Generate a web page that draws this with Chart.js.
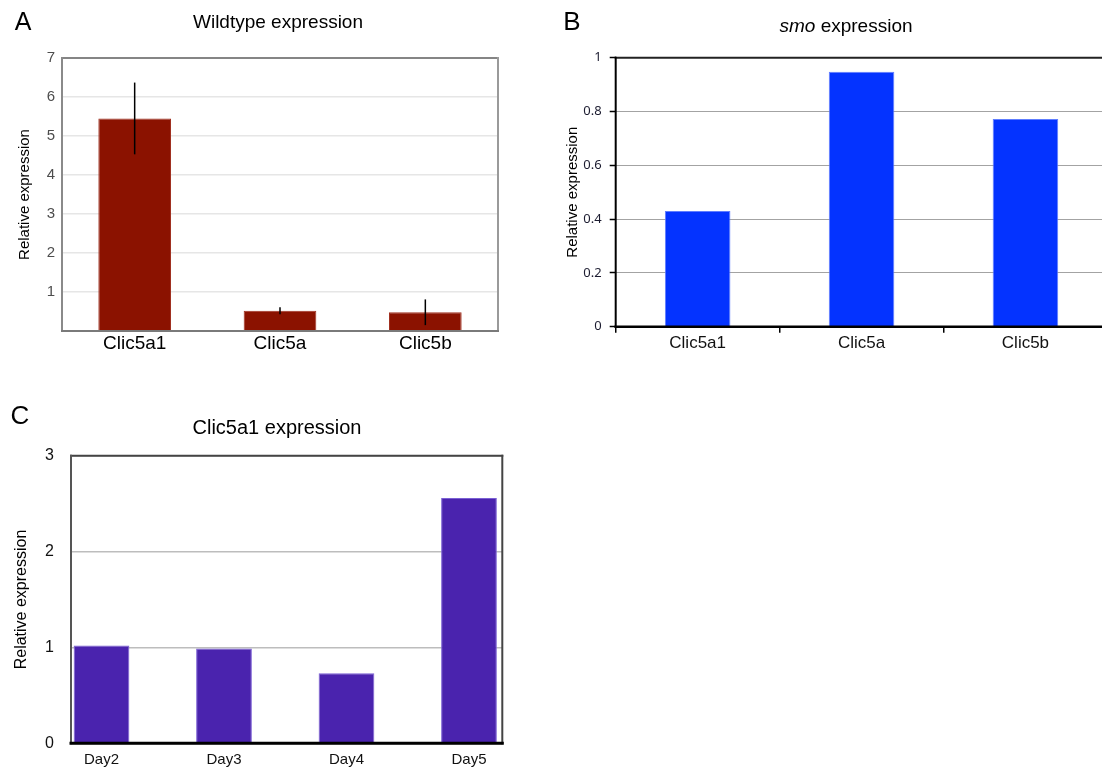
<!DOCTYPE html>
<html>
<head>
<meta charset="utf-8">
<script src="https://cdn.jsdelivr.net/npm/chart.js@4.4.1/dist/chart.umd.min.js"></script>
<style>
  html, body { margin: 0; padding: 0; background: #fff; }
  body { width: 1102px; height: 775px; overflow: hidden; position: relative; font-family: "Liberation Sans", Arial, sans-serif; color: #000; }
  canvas { position: absolute; }
  .lbl { position: absolute; transform: translate(-50%, -50%); white-space: nowrap; line-height: 1; }
</style>
</head>
<body>
<canvas id="chartA" width="540" height="370" style="left:0;top:0"></canvas>
<canvas id="chartB" width="580" height="370" style="left:540px;top:0"></canvas>
<canvas id="chartC" width="540" height="385" style="left:0;top:390px"></canvas>

<div class="lbl" style="left:23px;top:21px;font-size:25px">A</div>
<div class="lbl" style="left:278px;top:21px;font-size:19px">Wildtype expression</div>
<div class="lbl" style="left:572px;top:21px;font-size:26px">B</div>
<div class="lbl" style="left:846px;top:25px;font-size:19px"><i>smo</i> expression</div>
<div class="lbl" style="left:20px;top:415px;font-size:26px">C</div>
<div class="lbl" style="left:277px;top:427px;font-size:20px">Clic5a1 expression</div>

<script>
const wtGenes = ["Clic5a1", "Clic5a", "Clic5b"];
const wtValues = [5.45, 0.52, 0.48];
const wtErrors = [0.92, 0.09, 0.33];
const wtTicks = ["", "1", "2", "3", "4", "5", "6", "7"];

const smoGenes = ["Clic5a1", "Clic5a", "Clic5b"];
const smoValues = [0.43, 0.948, 0.772];
const smoTicks = ["0", "0.2", "0.4", "0.6", "0.8", "1"];

const days = ["Day2", "Day3", "Day4", "Day5"];
const dayValues = [1.02, 0.99, 0.73, 2.56];
const dayTicks = ["0", "1", "2", "3"];

const FONT = "Liberation Sans";

// draws the box round the plot area, one colour / width per side
const framePlugin = {
  id: "frame",
  afterDraw(chart, args, opts) {
    const ctx = chart.ctx;
    const a = chart.chartArea;
    const sides = opts.sides || {};
    ctx.save();
    ctx.lineCap = "square";
    const line = (s, x1, y1, x2, y2) => {
      if (!sides[s]) return;
      ctx.strokeStyle = sides[s][0];
      ctx.lineWidth = sides[s][1];
      ctx.beginPath();
      ctx.moveTo(x1, y1);
      ctx.lineTo(x2, y2);
      ctx.stroke();
    };
    line("top", a.left, a.top, a.right, a.top);
    line("right", a.right, a.top, a.right, a.bottom);
    line("left", a.left, a.top, a.left, a.bottom);
    line("bottom", a.left, a.bottom, a.right, a.bottom);
    ctx.restore();
  }
};

const errorBarPlugin = {
  id: "errorBars",
  afterDatasetsDraw(chart, args, opts) {
    if (!opts.errors) return;
    const ctx = chart.ctx;
    const yScale = chart.scales.y;
    const meta = chart.getDatasetMeta(0);
    const vals = chart.data.datasets[0].data;
    ctx.save();
    ctx.strokeStyle = opts.color || "#000";
    ctx.lineWidth = opts.width || 1.5;
    meta.data.forEach((bar, i) => {
      const e = opts.errors[i];
      ctx.beginPath();
      ctx.moveTo(bar.x, yScale.getPixelForValue(vals[i] + e));
      ctx.lineTo(bar.x, yScale.getPixelForValue(vals[i] - e));
      ctx.stroke();
    });
    ctx.restore();
  }
};

function basePlugins(frameSides, errors) {
  return {
    legend: { display: false },
    tooltip: { enabled: false },
    title: { display: false },
    frame: { sides: frameSides },
    errorBars: { errors: errors }
  };
}

// A - wildtype
new Chart(document.getElementById("chartA"), {
  type: "bar",
  data: {
    labels: wtGenes,
    datasets: [{
      data: wtValues,
      backgroundColor: "#8b1200",
      borderColor: "#a03020",
      borderWidth: 1,
      categoryPercentage: 1,
      barPercentage: 0.5
    }]
  },
  options: {
    responsive: false,
    animation: false,
    layout: { padding: { left: 0, top: 58, right: 42, bottom: 0 } },
    plugins: basePlugins({
      top: ["#858585", 2], right: ["#9a9a9a", 2], left: ["#8a8a8a", 2], bottom: ["#7a7a7a", 2]
    }, wtErrors),
    scales: {
      x: {
        grid: { display: false, drawTicks: false },
        border: { display: false },
        ticks: { padding: 1, color: "#000", font: { family: FONT, size: 19 } },
        afterFit: s => { s.height = 39; }
      },
      y: {
        min: 0,
        max: 7,
        ticks: {
          stepSize: 1,
          padding: 7,
          color: "#4d4d4d",
          font: { family: FONT, size: 15 },
          callback: (v, i) => wtTicks[i]
        },
        grid: { color: "#e6e6e6", lineWidth: 1.5, drawTicks: false },
        border: { display: false },
        title: {
          display: true,
          text: "Relative expression",
          color: "#000",
          font: { family: FONT, size: 15 },
          padding: { top: 16, bottom: 0 }
        },
        afterFit: s => { s.width = 62; }
      }
    }
  },
  plugins: [framePlugin, errorBarPlugin]
});

// B - smo
new Chart(document.getElementById("chartB"), {
  type: "bar",
  data: {
    labels: smoGenes,
    datasets: [{
      data: smoValues,
      backgroundColor: "#0433ff",
      borderColor: "#5f7dff",
      borderWidth: 1,
      categoryPercentage: 1,
      barPercentage: 0.4
    }]
  },
  options: {
    responsive: false,
    animation: false,
    layout: { padding: { left: 0, top: 57.7, right: 12.6, bottom: 0 } },
    plugins: basePlugins({
      top: ["#222", 2], left: ["#000", 2], bottom: ["#000", 2.5]
    }, null),
    scales: {
      x: {
        grid: { display: true, offset: true, drawOnChartArea: false, tickLength: 6, color: "#000", lineWidth: 1.5 },
        border: { display: false },
        ticks: { padding: 0, color: "#111", font: { family: FONT, size: 17 } },
        afterFit: s => { s.height = 43.3; }
      },
      y: {
        min: 0,
        max: 1,
        ticks: {
          stepSize: 0.2,
          padding: 8,
          color: "#1c1c30",
          font: { family: "Noto Sans", size: 13 },
          callback: (v, i) => smoTicks[i]
        },
        grid: { color: "#a3a3a3", lineWidth: 1, tickLength: 6, tickColor: "#000", tickWidth: 1.5 },
        border: { display: false },
        title: {
          display: true,
          text: "Relative expression",
          color: "#000",
          font: { family: FONT, size: 15 },
          padding: { top: 24, bottom: 0 }
        },
        afterFit: s => { s.width = 75.7; }
      }
    }
  },
  plugins: [framePlugin, errorBarPlugin]
});

// C - Clic5a1 time course
new Chart(document.getElementById("chartC"), {
  type: "bar",
  data: {
    datasets: [{
      data: days.map((d, i) => ({ x: i, y: dayValues[i] })),
      backgroundColor: "#4a23ae",
      borderColor: "#7a5fd4",
      borderWidth: 1,
      categoryPercentage: 1,
      barPercentage: 0.455
    }]
  },
  options: {
    responsive: false,
    animation: false,
    layout: { padding: { left: 0, top: 65.7, right: 37.7, bottom: 0 } },
    plugins: basePlugins({
      top: ["#444", 2], right: ["#444", 2], left: ["#555", 2], bottom: ["#000", 3]
    }, null),
    scales: {
      x: {
        type: "linear",
        offset: false,
        min: -0.249,
        max: 3.272,
        grid: { display: false, drawTicks: false, offset: false },
        border: { display: false },
        ticks: {
          stepSize: 1,
          includeBounds: false,
          autoSkip: false,
          padding: 8,
          color: "#111",
          font: { family: FONT, size: 15 },
          callback: v => days[v]
        },
        afterFit: s => { s.height = 31.7; }
      },
      y: {
        min: 0,
        max: 3,
        ticks: {
          stepSize: 1,
          padding: 17,
          color: "#111",
          font: { family: FONT, size: 16 },
          callback: (v, i) => dayTicks[i]
        },
        grid: { color: "#bdbdbd", lineWidth: 1.5, drawTicks: false },
        border: { display: false },
        title: {
          display: true,
          text: "Relative expression",
          color: "#000",
          font: { family: FONT, size: 16 },
          padding: { top: 12, bottom: 0 }
        },
        afterFit: s => { s.width = 71; }
      }
    }
  },
  plugins: [framePlugin, errorBarPlugin]
});
</script>
</body>
</html>
